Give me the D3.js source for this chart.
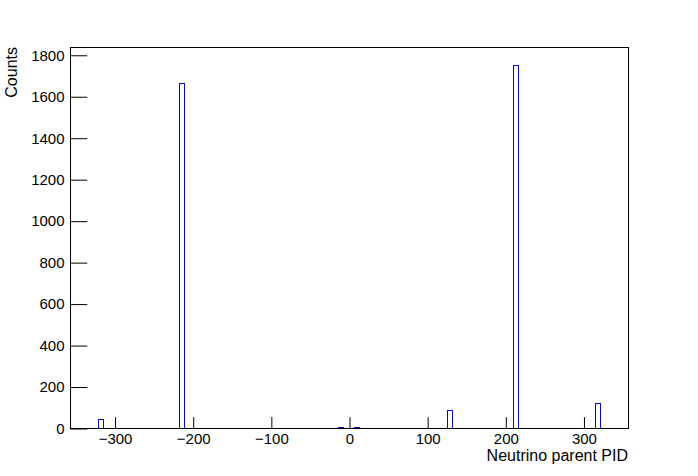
<!DOCTYPE html>
<html>
<head>
<meta charset="utf-8">
<script src="https://cdn.jsdelivr.net/npm/d3@7"></script>
<style>
  body { margin: 0; background: #fff; }
  text { font-family: "Liberation Sans", Arial, sans-serif; }
</style>
</head>
<body>
<div id="chart"></div>
<script>
// histogram of neutrino parent PDG codes
var parentPid = [-321, -211, -13, 13, 130, 211, 321];
var binLow = [-321.8, -217.1, -14, 6, 125.2, 209.5, 314.2];
var binWidth = 6.5;
var counts = [42, 1662, 3, 3, 86, 1750, 120];
var xMajorTicks = [-300, -200, -100, 0, 100, 200, 300];
var yMajorTicks = [0, 200, 400, 600, 800, 1000, 1200, 1400, 1600, 1800];
var xRange = [-357, 357];

var W = 698, H = 476;
var margin = {left: 70, right: 70, top: 47, bottom: 48};

var svg = d3.select("#chart").append("svg")
  .attr("width", W).attr("height", H);

var x = d3.scaleLinear().domain(xRange)
  .range([margin.left, W - margin.right]);
var y = d3.scaleLinear().domain([0, d3.max(counts) * 1.05])
  .range([H - margin.bottom, margin.top]);

var g = svg.append("g").attr("transform", "translate(0.5,0.5)");

// bars (outline only, like ROOT)
g.selectAll("rect.bin").data(counts)
  .enter().append("rect")
  .attr("class", "bin")
  .attr("x", (d, i) => Math.round(x(binLow[i])))
  .attr("width", (d, i) => Math.round(x(binLow[i] + binWidth)) - Math.round(x(binLow[i])))
  .attr("y", d => Math.round(y(d)))
  .attr("height", d => Math.round(y(0)) - Math.round(y(d)))
  .style("fill", "none")
  .style("stroke", "#0000ff")
  .style("stroke-width", 1);

// frame
g.append("rect")
  .attr("x", Math.round(x(xRange[0])))
  .attr("y", Math.round(y.range()[1]))
  .attr("width", Math.round(x(xRange[1])) - Math.round(x(xRange[0])))
  .attr("height", Math.round(y(0)) - Math.round(y.range()[1]))
  .style("fill", "none")
  .style("stroke", "#000");

var frameW = x.range()[1] - x.range()[0];
var frameH = y.range()[0] - y.range()[1];
var xTick = 0.03 * frameH, yTick = 0.03 * frameW;

// x axis
var xMinor = d3.range(-340, 341, 20).filter(v => xMajorTicks.indexOf(v) < 0);
var xAxisG = g.append("g").attr("transform", "translate(0," + Math.round(y(0)) + ")");
xAxisG.call(d3.axisBottom(x).tickValues(xMinor).tickSize(-xTick / 2).tickFormat(""));
xAxisG.call(d3.axisBottom(x).tickValues(xMajorTicks).tickSize(-xTick).tickPadding(4));
xAxisG.selectAll(".domain").remove();
xAxisG.selectAll("text").style("font-size", "15px").attr("dy", "0.75em")
  .style("fill", "#000");

// y axis
var yMinor = d3.range(50, 1800, 50).filter(v => yMajorTicks.indexOf(v) < 0);
var yAxisG = g.append("g").attr("transform", "translate(" + Math.round(x(xRange[0])) + ",0)");
yAxisG.call(d3.axisLeft(y).tickValues(yMinor).tickSize(-yTick / 2).tickFormat(""));
yAxisG.call(d3.axisLeft(y).tickValues(yMajorTicks).tickSize(-yTick).tickPadding(6)
  .tickFormat(d3.format("d")));
yAxisG.selectAll(".domain").remove();
yAxisG.selectAll("text").style("font-size", "15px").style("fill", "#000");
g.selectAll(".tick line").style("stroke", "#000");

// titles
svg.append("text")
  .attr("x", x.range()[1]).attr("y", 461)
  .attr("text-anchor", "end")
  .style("font-size", "16px")
  .text("Neutrino parent PID");

svg.append("text")
  .attr("transform", "translate(17," + margin.top + ") rotate(-90)")
  .attr("text-anchor", "end")
  .style("font-size", "16px")
  .text("Counts");
</script>
</body>
</html>
